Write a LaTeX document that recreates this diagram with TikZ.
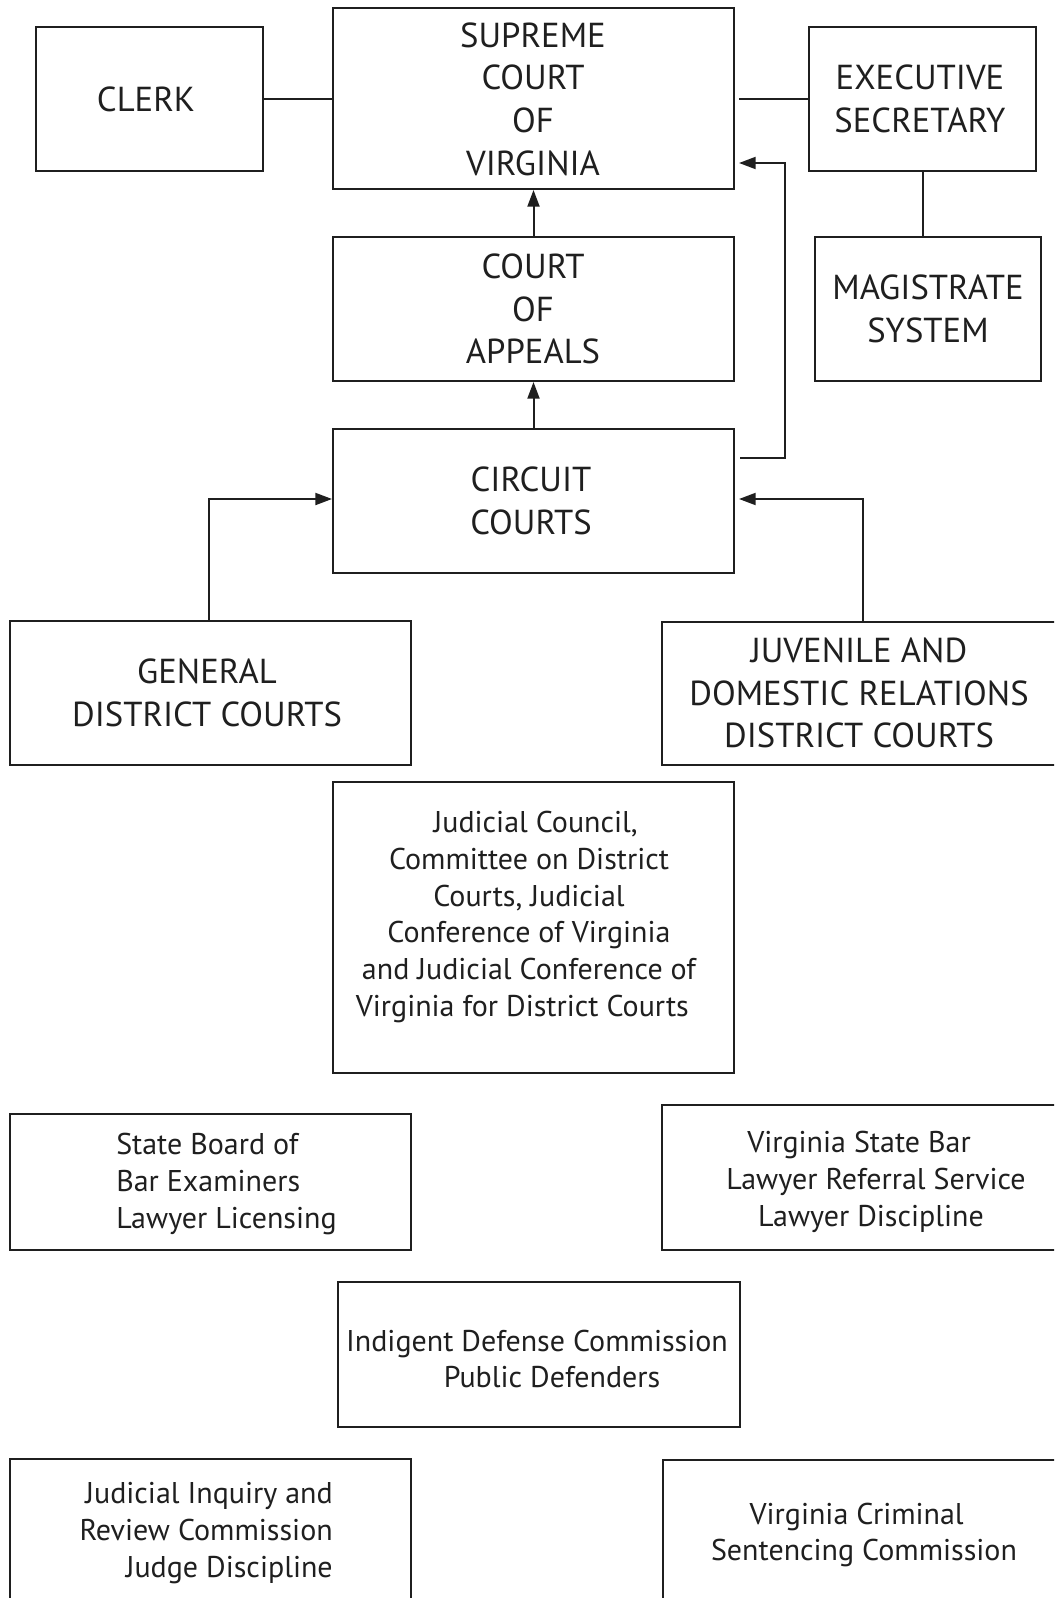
\documentclass[tikz,border=0pt]{standalone}
\usepackage{fontspec}
\setmainfont{PT Sans}
\usetikzlibrary{arrows.meta,fit}
\begin{document}
\begin{tikzpicture}[x=0.75pt,y=-0.75pt,
  box/.style={draw=black!88, line width=1.5pt, inner sep=0pt},
  caps/.style={inner sep=0pt, align=center, font=\fontsize{26pt}{32pt}\selectfont, text=black!88},
  small/.style={inner sep=0pt, font=\fontsize{22.5pt}{27.7pt}\selectfont, text=black!88},
  conn/.style={draw=black!88, line width=1.5pt},
  arr/.style={conn, -{Triangle[length=12.5pt,width=9pt]}}
]
\fill[white] (0,0) rectangle (1054,1598);
\clip (0,0) rectangle (1054,1598);
% boxes
\node[box, fit={(36,27) (263,171)}] (clerk) {};
\node[box, fit={(333,8) (734,189)}] (sup) {};
\node[box, fit={(809,27) (1036,171)}] (exec) {};
\node[box, fit={(815,237) (1041,381)}] (mag) {};
\node[box, fit={(333,237) (734,381)}] (coa) {};
\node[box, fit={(333,429) (734,573)}] (cir) {};
\node[box, fit={(10,621) (411,765)}] (gen) {};
\node[box, fit={(662,622) (1070,765)}] (juv) {};
\node[box, fit={(333,782) (734,1073)}] (jc) {};
\node[box, fit={(10,1114) (411,1250)}] (sb) {};
\node[box, fit={(662,1105) (1070,1250)}] (vsb) {};
\node[box, fit={(338,1282) (740,1427)}] (ind) {};
\node[box, fit={(10,1459) (411,1620)}] (jirc) {};
\node[box, fit={(663,1460) (1070,1620)}] (vcsc) {};
% texts
\node[caps] (tclerk) at (146,99) {CLERK};
\node[caps] (tsup) at (533,99) {SUPREME\\COURT\\OF\\VIRGINIA};
\node[caps] (texec) at (920,99) {EXECUTIVE\\SECRETARY};
\node[caps] (tmag) at (928,309) {MAGISTRATE\\SYSTEM};
\node[caps] (tcoa) at (533,309) {COURT\\OF\\APPEALS};
\node[caps] (tcir) at (531,501) {CIRCUIT\\COURTS};
\node[caps] (tgen) at (207,693) {GENERAL\\DISTRICT COURTS};
\node[caps] (tjuv) at (859,693) {JUVENILE AND\\DOMESTIC RELATIONS\\DISTRICT COURTS};
\node[small, align=center] (tjc) at (529,917) {\kern10pt Judicial Council,\\Committee on District\\Courts, Judicial\\Conference of Virginia\\and Judicial Conference of\\Virginia for District Courts\kern10pt};
\node[small, align=left, anchor=west] (tsb) at (116,1184) {State Board of\\Bar Examiners\\Lawyer Licensing};
\node[small, align=center] (tvsb) at (871,1182) {Virginia State Bar\kern18pt\\\kern7.5pt Lawyer Referral Service\\Lawyer Discipline};
\node[small, align=center] (tind) at (537,1359) {Indigent Defense Commission\\\kern22.5pt Public Defenders};
\node[small, align=right, anchor=east] (tjirc) at (333,1533) {Judicial Inquiry and\\Review Commission\\Judge Discipline};
\node[small, align=center] (tvcsc) at (864,1535) {Virginia Criminal\kern11pt\\Sentencing Commission};
% connectors
\draw[conn] (clerk.east) -- (clerk.east -| sup.west);
\draw[conn] ([xshift=3]sup.east |- exec.west) -- (exec.west);
\draw[conn] (exec.south -| 923,0) -- (mag.north -| 923,0);
\draw[arr] (coa.north) -- (sup.south);
\draw[arr] (cir.north) -- (coa.south);
\coordinate (cirout) at (740,458);
\coordinate (supin) at (739,163);
\draw[arr] (cirout) -- (785,458) -- (785,163) -- (supin);
\draw[arr] (gen.north -| 209,0) -- (209,499) -- (cir.west |- 0,499);
\draw[arr] (juv.north -| 863,0) -- (863,499) -- ([xshift=3]cir.east |- 0,499);
\end{tikzpicture}
\end{document}
